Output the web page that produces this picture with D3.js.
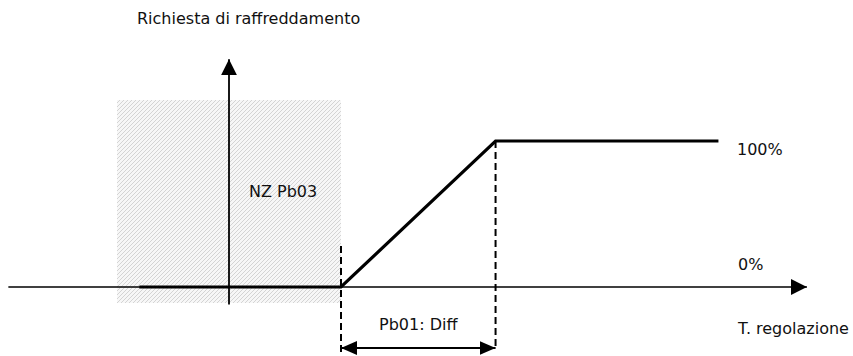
<!DOCTYPE html>
<html><head><meta charset="utf-8">
<script src="https://cdn.jsdelivr.net/npm/d3@7"></script>
<style>body{margin:0;background:#fff}svg{display:block}text{font-family:"DejaVu Sans",Verdana,sans-serif;font-size:16px;fill:#111}</style>
</head><body><svg id="c" width="853" height="356"></svg>
<script>
// Temperature in arbitrary units (setpoint = 0), cooling request in %
const curveT = [-0.8, 1, 2.38, 4.37];
const curveV = [0, 0, 100, 100];
const nzRange = [-1, 1];          // neutral zone Pb03
const diffRange = [1, 2.38];      // Pb01: Diff
const axisT = [-1.97, 5.16];
const axisV = [-12, 156];
const labels = {y:"Richiesta di raffreddamento", x:"T. regolazione", nz:"NZ Pb03", diff:"Pb01: Diff", hi:"100%", lo:"0%"};

const svg = d3.select("#c");
const x = d3.scaleLinear().domain([0, 1]).range([229, 341]);
const y = d3.scaleLinear().domain([0, 100]).range([287, 141]);

const defs = svg.append("defs");
const pat = defs.append("pattern").attr("id","hatch").attr("patternUnits","userSpaceOnUse")
  .attr("width",4).attr("height",4);
pat.append("rect").attr("width",4).attr("height",4).attr("fill","#f7f7f7");
pat.append("path").attr("d","M-1,1 l2,-2 M0,4 l4,-4 M3,5 l2,-2").attr("stroke","#c4c4c4").attr("stroke-width",0.7);
const mk = (id, w, h) => {
  defs.append("marker").attr("id",id).attr("viewBox",`0 0 ${w} ${h}`).attr("refX",w).attr("refY",h/2)
    .attr("markerWidth",w).attr("markerHeight",h).attr("markerUnits","userSpaceOnUse").attr("orient","auto-start-reverse")
    .append("path").attr("d",`M0,0 L${w},${h/2} L0,${h} Z`).attr("fill","#000");
};
mk("arr",16,16);
mk("arr2",16,14);

// neutral zone hatched box
svg.append("rect").attr("x",x(nzRange[0])).attr("y",100).attr("width",x(nzRange[1])-x(nzRange[0]))
  .attr("height",203).attr("fill","url(#hatch)");

// axes
svg.append("line").attr("x1",x(axisT[0])).attr("x2",x(axisT[1])).attr("y1",y(0)).attr("y2",y(0))
  .attr("stroke","#000").attr("stroke-width",1.6).attr("marker-end","url(#arr)");
svg.append("line").attr("x1",x(0)).attr("x2",x(0)).attr("y1",y(axisV[0])).attr("y2",y(axisV[1]))
  .attr("stroke","#000").attr("stroke-width",1.8).attr("marker-end","url(#arr)");

// dashed guides
svg.append("line").attr("x1",x(diffRange[0])).attr("x2",x(diffRange[0])).attr("y1",246).attr("y2",356)
  .attr("stroke","#000").attr("stroke-width",2).attr("stroke-dasharray","7,4");
svg.append("line").attr("x1",x(diffRange[1])).attr("x2",x(diffRange[1])).attr("y1",y(100)).attr("y2",350)
  .attr("stroke","#000").attr("stroke-width",2).attr("stroke-dasharray","7,4");

// curve
const pts = curveT.map((t,i)=>[x(t), y(curveV[i])]);
svg.append("path").attr("d",d3.line()(pts)).attr("fill","none").attr("stroke","#000").attr("stroke-width",3.2);

// double arrow
svg.append("line").attr("x1",x(diffRange[0])).attr("x2",x(diffRange[1])).attr("y1",348).attr("y2",348)
  .attr("stroke","#000").attr("stroke-width",2).attr("marker-end","url(#arr2)").attr("marker-start","url(#arr2)");

// texts
svg.append("text").attr("x",137).attr("y",24).text(labels.y);
svg.append("text").attr("x",249).attr("y",197).text(labels.nz);
svg.append("text").attr("x",(x(diffRange[0])+x(diffRange[1]))/2).attr("y",330).attr("text-anchor","middle").text(labels.diff);
svg.append("text").attr("x",737).attr("y",155).text(labels.hi);
svg.append("text").attr("x",738).attr("y",270).text(labels.lo);
svg.append("text").attr("x",738).attr("y",334).text(labels.x);
</script></body></html>
